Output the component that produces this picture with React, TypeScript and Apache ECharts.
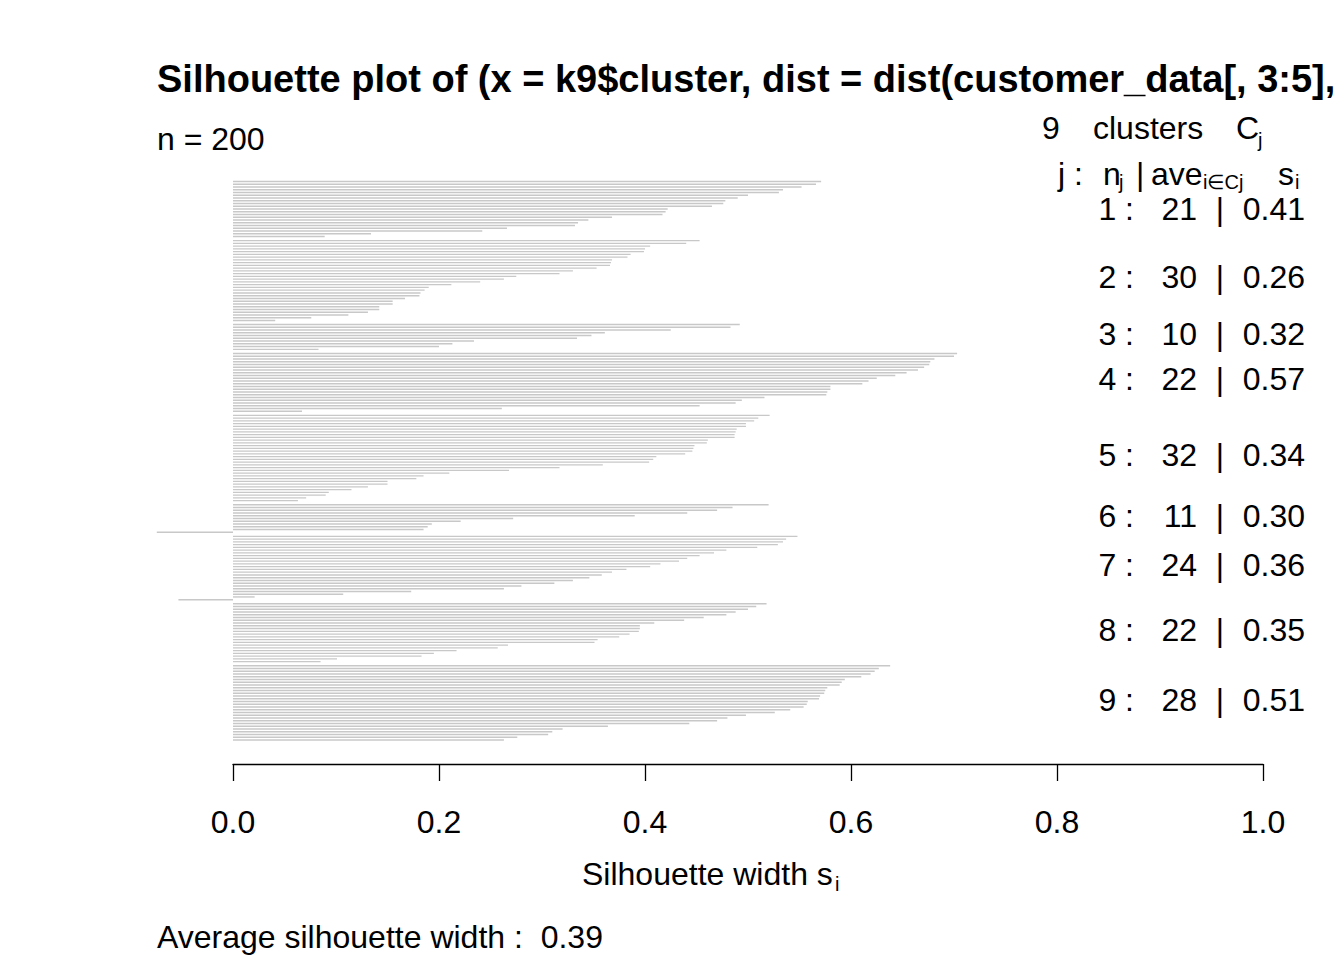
import React, { useEffect, useRef } from "react";
import * as echarts from "echarts";

// silhouette widths per cluster, sorted descending within each cluster
const cluster1 = [0.571, 0.566, 0.552, 0.534, 0.530, 0.500, 0.490, 0.478, 0.476, 0.465, 0.422, 0.420, 0.417, 0.368, 0.345, 0.335, 0.332, 0.266, 0.242, 0.134, 0.089];
const cluster2 = [0.453, 0.440, 0.405, 0.400, 0.399, 0.386, 0.383, 0.368, 0.367, 0.366, 0.353, 0.330, 0.317, 0.275, 0.263, 0.240, 0.212, 0.190, 0.186, 0.182, 0.181, 0.167, 0.155, 0.155, 0.142, 0.142, 0.131, 0.112, 0.076, 0.041];
const cluster3 = [0.492, 0.483, 0.425, 0.361, 0.348, 0.334, 0.234, 0.213, 0.200, 0.083];
const cluster4 = [0.703, 0.700, 0.681, 0.677, 0.676, 0.671, 0.665, 0.654, 0.643, 0.625, 0.617, 0.611, 0.580, 0.580, 0.577, 0.576, 0.516, 0.494, 0.488, 0.453, 0.261, 0.067];
const cluster5 = [0.521, 0.510, 0.506, 0.498, 0.498, 0.489, 0.488, 0.487, 0.487, 0.461, 0.460, 0.448, 0.447, 0.446, 0.439, 0.411, 0.408, 0.404, 0.359, 0.317, 0.268, 0.210, 0.185, 0.178, 0.150, 0.150, 0.131, 0.115, 0.093, 0.090, 0.071, 0.063];
const cluster6 = [0.520, 0.485, 0.470, 0.441, 0.390, 0.272, 0.221, 0.193, 0.189, 0.185, -0.074];
const cluster7 = [0.548, 0.537, 0.534, 0.529, 0.509, 0.479, 0.467, 0.453, 0.441, 0.433, 0.415, 0.405, 0.382, 0.368, 0.358, 0.346, 0.330, 0.312, 0.280, 0.263, 0.173, 0.107, 0.021, -0.053];
const cluster8 = [0.518, 0.508, 0.500, 0.488, 0.479, 0.457, 0.438, 0.409, 0.395, 0.395, 0.394, 0.385, 0.375, 0.354, 0.351, 0.267, 0.257, 0.217, 0.195, 0.183, 0.101, 0.085];
const cluster9 = [0.638, 0.627, 0.623, 0.619, 0.610, 0.594, 0.591, 0.589, 0.577, 0.575, 0.574, 0.570, 0.569, 0.558, 0.557, 0.554, 0.541, 0.526, 0.498, 0.480, 0.470, 0.443, 0.364, 0.320, 0.310, 0.306, 0.276, 0.263];

const clusters = [cluster1, cluster2, cluster3, cluster4, cluster5, cluster6, cluster7, cluster8, cluster9];
const clusterIds = ["1", "2", "3", "4", "5", "6", "7", "8", "9"];
const clusterSizes = ["21", "30", "10", "22", "32", "11", "24", "22", "28"];
const clusterAverages = ["0.41", "0.26", "0.32", "0.57", "0.34", "0.30", "0.36", "0.35", "0.51"];
const rowY = [209, 277, 334, 379, 455, 516, 565, 630, 700];
const xTicks = [0, 0.2, 0.4, 0.6, 0.8, 1.0];
const averageWidth = "0.39";

const FONT = "'Liberation Sans', Arial, Helvetica, sans-serif";
const FS = 32;
const SUB = 20;

export default function App() {
  const ref = useRef<HTMLDivElement>(null);
  useEffect(() => {
    if (!ref.current) return;
    const chart = echarts.init(ref.current, null, { renderer: "svg" });

    const data: number[][] = [];
    let idx = 0;
    clusters.forEach((c, ci) => {
      c.forEach((v) => {
        data.push([v, idx + 0.5 * ci]);
        idx++;
      });
    });

    const txt = (text: string, x: number, y: number, size = FS, extra: any = {}) => ({
      type: "text",
      x,
      y,
      silent: true,
      style: {
        text,
        fontFamily: FONT,
        fontSize: size,
        lineHeight: Math.round(size * 0.85),
        fill: "#000",
        textVerticalAlign: "middle",
        verticalAlign: "middle",
        ...extra,
      },
    });

    const graphics: any[] = [
      txt("Silhouette plot of (x = k9$cluster, dist = dist(customer_data[, 3:5],", 157, 79, 38, { fontWeight: "bold" }),
      txt("n = 200", 157, 139),
      txt("9", 1042, 128),
      txt("clusters", 1093, 128),
      txt("C", 1236, 128),
      txt("j", 1258, 140, SUB),
      txt("j :", 1058, 174),
      txt("n", 1103, 174),
      txt("j", 1119, 182, SUB),
      txt("|", 1136, 174),
      txt("ave", 1151, 174),
      txt("i\u2208Cj", 1203, 182, SUB),
      txt("s", 1278, 174),
      txt("i", 1295, 182, SUB),
      txt("Silhouette width s", 582, 874),
      txt("i", 835, 884, SUB),
      txt("Average silhouette width :  " + averageWidth, 157, 937),
    ];
    clusterIds.forEach((id, i) => {
      const y = rowY[i];
      graphics.push(txt(id + " :", 1134, y, FS, { align: "right", textAlign: "right" }));
      graphics.push(txt(clusterSizes[i], 1197, y, FS, { align: "right", textAlign: "right" }));
      graphics.push(txt("|", 1220, y, FS, { align: "center", textAlign: "center" }));
      graphics.push(txt(clusterAverages[i], 1305, y, FS, { align: "right", textAlign: "right" }));
    });

    chart.setOption({
      animation: false,
      backgroundColor: "#ffffff",
      grid: [
        { left: 157, right: 81, top: 178.75, bottom: 217.25 },
        { left: 233, right: 81, top: 700, bottom: 196 },
      ],
      xAxis: [
        { type: "value", gridIndex: 0, min: -0.0738, max: 1, show: false },
        {
          type: "value",
          gridIndex: 1,
          min: 0,
          max: 1,
          interval: 0.2,
          position: "bottom",
          axisLine: { show: true, lineStyle: { color: "#000", width: 1.3 } },
          axisTick: { show: true, length: 17, inside: false, lineStyle: { color: "#000", width: 1.3 } },
          axisLabel: {
            show: true,
            margin: 42,
            fontSize: FS,
            fontFamily: FONT,
            color: "#000",
            formatter: (v: number) => v.toFixed(1),
            customValues: xTicks,
          },
          splitLine: { show: false },
        },
      ],
      yAxis: [
        { type: "value", gridIndex: 0, inverse: true, min: -1, max: 204, show: false },
        { type: "value", gridIndex: 1, show: false },
      ],
      series: [
        {
          type: "custom",
          xAxisIndex: 0,
          yAxisIndex: 0,
          data,
          encode: { x: 0, y: 1 },
          renderItem: (params: any, api: any) => {
            const v = api.value(0);
            const p = api.value(1);
            const a = api.coord([0, p]);
            const b = api.coord([v, p]);
            const h = 1.4;
            return {
              type: "rect",
              shape: { x: Math.min(a[0], b[0]), y: a[1] - h / 2, width: Math.abs(b[0] - a[0]), height: h },
              style: { fill: "#c8c8c8" },
            };
          },
        },
      ],
      graphic: graphics,
    });

    return () => chart.dispose();
  }, []);

  return (
    <div
      ref={ref}
      style={{ position: "fixed", left: 0, top: 0, width: 1344, height: 960, background: "#fff" }}
    />
  );
}
